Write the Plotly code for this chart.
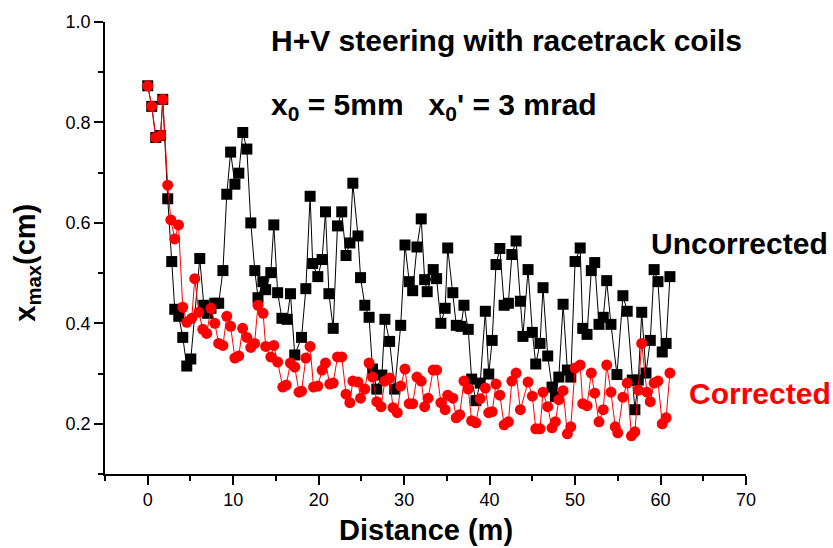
import plotly.graph_objects as go

# Uncorrected (black squares)
unc_x = [0.0, 0.47, 0.94, 1.5, 1.76, 2.34, 2.81, 3.16, 3.63, 4.1, 4.57, 5.04, 6.09, 6.56, 7.0, 7.4,
         7.85, 8.3, 8.8, 9.25, 9.7, 10.2, 10.66, 11.12, 11.6, 12.06, 12.53, 12.9, 13.47, 13.8, 14.4,
         14.75, 15.2, 15.7, 16.3, 16.7, 17.2, 18.0, 18.5, 19.0, 19.3, 19.9, 20.4, 20.8, 21.2, 21.7,
         22.2, 22.7, 23.2, 23.65, 24.0, 24.6, 24.9, 25.4, 25.9, 26.3, 26.8, 27.4, 27.75, 28.3, 28.9,
         29.6, 30.1, 30.6, 31.0, 31.5, 32.0, 32.4, 32.7, 33.4, 33.8, 34.3, 34.8, 35.1, 35.7, 36.1,
         36.65, 37.0, 37.5, 37.9, 38.4, 38.9, 39.5, 39.9, 40.3, 40.75, 41.2, 41.7, 42.2, 42.6, 43.1,
         43.6, 43.9, 44.5, 45.0, 45.4, 45.9, 46.25, 46.8, 47.3, 47.7, 48.1, 48.6, 49.1, 49.5, 50.0,
         50.6, 50.9, 51.4, 51.9, 52.3, 52.8, 53.3, 53.7, 54.2, 54.9, 55.6, 56.1, 56.7, 57.0, 57.4,
         57.8, 58.3, 58.8, 59.25, 59.7, 60.2, 60.65, 61.1]
unc_y = [0.873, 0.832, 0.770, 0.774, 0.846, 0.648, 0.523, 0.428, 0.414, 0.372, 0.315, 0.329, 0.529, 0.436, 0.42, 0.43,
         0.44, 0.44, 0.505, 0.657, 0.741, 0.677, 0.699, 0.780, 0.747, 0.600, 0.505, 0.451, 0.483, 0.467, 0.501,
         0.596, 0.461, 0.410, 0.408, 0.459, 0.337, 0.372, 0.469, 0.653, 0.519, 0.493, 0.527, 0.622, 0.459, 0.390,
         0.594, 0.622, 0.535, 0.560, 0.679, 0.574, 0.491, 0.436, 0.412, 0.309, 0.269, 0.297, 0.408, 0.364, 0.269,
         0.396, 0.556, 0.483, 0.465, 0.552, 0.608, 0.487, 0.463, 0.507, 0.489, 0.400, 0.430, 0.550, 0.461, 0.396,
         0.394, 0.436, 0.388, 0.289, 0.246, 0.281, 0.424, 0.299, 0.366, 0.517, 0.549, 0.436, 0.440, 0.537, 0.564,
         0.444, 0.374, 0.507, 0.382, 0.319, 0.360, 0.471, 0.335, 0.273, 0.254, 0.293, 0.438, 0.307, 0.293, 0.523,
         0.550, 0.390, 0.378, 0.505, 0.521, 0.398, 0.412, 0.485, 0.398, 0.298, 0.455, 0.424, 0.287, 0.228, 0.287,
         0.422, 0.301, 0.366, 0.507, 0.483, 0.343, 0.360, 0.493]

# Corrected (red circles)
cor_x = [0.0, 0.47, 0.94, 1.5, 1.76, 2.34, 2.7, 3.16, 3.6, 4.1, 4.57, 5.15, 5.5, 5.97, 6.44, 6.9,
         7.4, 7.85, 8.3, 8.8, 9.25, 9.7, 10.2, 10.65, 11.1, 11.6, 12.06, 12.5, 12.9, 13.5, 13.8, 14.4,
         14.75, 15.2, 15.8, 16.2, 16.7, 17.2, 17.7, 18.0, 18.5, 19.0, 19.4, 19.9, 20.4, 20.8, 21.3,
         21.7, 22.2, 22.7, 23.2, 23.65, 24.0, 24.6, 24.9, 25.4, 25.9, 26.3, 26.8, 27.3, 27.75, 28.3,
         28.7, 29.2, 29.6, 30.1, 30.6, 31.0, 31.5, 32.0, 32.4, 32.8, 33.4, 33.8, 34.3, 34.8, 35.1,
         35.7, 36.1, 36.5, 37.0, 37.5, 37.9, 38.4, 38.9, 39.5, 39.9, 40.3, 40.75, 41.2, 41.7, 42.2,
         42.6, 43.1, 43.6, 44.5, 45.0, 45.4, 45.9, 46.25, 46.8, 47.3, 47.7, 48.1, 48.6, 49.1, 49.5,
         50.0, 50.6, 50.9, 51.4, 51.9, 52.3, 52.8, 53.3, 53.7, 54.2, 54.7, 55.0, 55.6, 56.1, 56.6,
         57.0, 57.4, 57.8, 58.4, 58.8, 59.25, 59.7, 60.2, 60.65, 61.1]
cor_y = [0.873, 0.832, 0.770, 0.774, 0.846, 0.675, 0.606, 0.568, 0.596, 0.432, 0.402, 0.410, 0.489, 0.422, 0.388, 0.380,
         0.430, 0.400, 0.360, 0.356, 0.414, 0.394, 0.331, 0.335, 0.390, 0.372, 0.352, 0.360, 0.436, 0.420, 0.354, 0.333,
         0.356, 0.323, 0.273, 0.277, 0.321, 0.313, 0.263, 0.265, 0.331, 0.354, 0.273, 0.275, 0.307, 0.321, 0.279,
         0.281, 0.333, 0.333, 0.259, 0.242, 0.285, 0.283, 0.251, 0.269, 0.321, 0.293, 0.244, 0.234, 0.285, 0.291,
         0.232, 0.222, 0.275, 0.309, 0.240, 0.240, 0.293, 0.285, 0.234, 0.251, 0.307, 0.307, 0.242, 0.228, 0.257,
         0.251, 0.212, 0.218, 0.285, 0.269, 0.206, 0.202, 0.250, 0.271, 0.222, 0.224, 0.279, 0.257, 0.198, 0.204,
         0.285, 0.301, 0.228, 0.283, 0.255, 0.190, 0.190, 0.263, 0.234, 0.192, 0.204, 0.248, 0.266, 0.180, 0.194,
         0.311, 0.317, 0.240, 0.236, 0.301, 0.261, 0.204, 0.228, 0.317, 0.263, 0.194, 0.182, 0.253, 0.281, 0.176,
         0.184, 0.267, 0.360, 0.263, 0.244, 0.281, 0.285, 0.200, 0.212, 0.301]

x_tick_vals = [0, 10, 20, 30, 40, 50, 60, 70]
y_tick_vals = [0.2, 0.4, 0.6, 0.8, 1.0]

FONT = "Arial, 'Liberation Sans', sans-serif"

fig = go.Figure()
fig.add_trace(go.Scatter(
    x=unc_x, y=unc_y, mode="lines+markers", name="Uncorrected",
    line=dict(color="black", width=1),
    marker=dict(symbol="square", size=11, color="black"),
))
fig.add_trace(go.Scatter(
    x=cor_x, y=cor_y, mode="lines+markers", name="Corrected",
    line=dict(color="#ff0000", width=1),
    marker=dict(symbol="circle", size=11, color="#ff0000"),
))

axis_common = dict(
    showline=True, linecolor="black", linewidth=1.5,
    ticks="outside", ticklen=9, tickwidth=1.5, tickcolor="black",
    showgrid=False, zeroline=False,
    tickfont=dict(family=FONT, size=18, color="black"),
)

fig.update_xaxes(range=[-5, 70], tickvals=x_tick_vals,
                 minor=dict(dtick=5, tick0=0, ticklen=5, tickwidth=1.5, tickcolor="black", ticks="outside"),
                 **axis_common)
fig.update_yaxes(range=[0.1, 1.0], tickvals=y_tick_vals, tickformat=".1f",
                 minor=dict(dtick=0.1, tick0=0, ticklen=5, tickwidth=1.5, tickcolor="black", ticks="outside"),
                 **axis_common)

annotations = [
    dict(text="<b>H+V steering with racetrack coils</b>", x=0.256, y=0.958, xanchor="left", yanchor="middle",
         font=dict(family=FONT, size=30, color="black")),
    dict(text="<b>x<sub>0</sub> = 5mm   x<sub>0</sub>' = 3 mrad</b>", x=0.256, y=0.812, xanchor="left", yanchor="middle",
         font=dict(family=FONT, size=30, color="black")),
    dict(text="<b>Uncorrected</b>", x=0.848, y=0.511, xanchor="left", yanchor="middle",
         font=dict(family=FONT, size=30, color="black")),
    dict(text="<b>Corrected</b>", x=0.908, y=0.178, xanchor="left", yanchor="middle",
         font=dict(family=FONT, size=30, color="#ff0000")),
    dict(text="<b>x<sub>max</sub>(cm)</b>", x=-0.122, y=0.467, xanchor="center", yanchor="middle", textangle=-90,
         font=dict(family=FONT, size=29, color="black")),
    dict(text="<b>Distance (m)</b>", x=0.50, y=-0.123, xanchor="center", yanchor="middle",
         font=dict(family=FONT, size=29, color="black")),
]
for a in annotations:
    a.update(xref="paper", yref="paper", showarrow=False)

fig.update_layout(
    width=833, height=548,
    margin=dict(l=105, r=87, t=20, b=74),
    paper_bgcolor="white", plot_bgcolor="white",
    showlegend=False,
    annotations=annotations,
)

fig.write_html("out.html")
